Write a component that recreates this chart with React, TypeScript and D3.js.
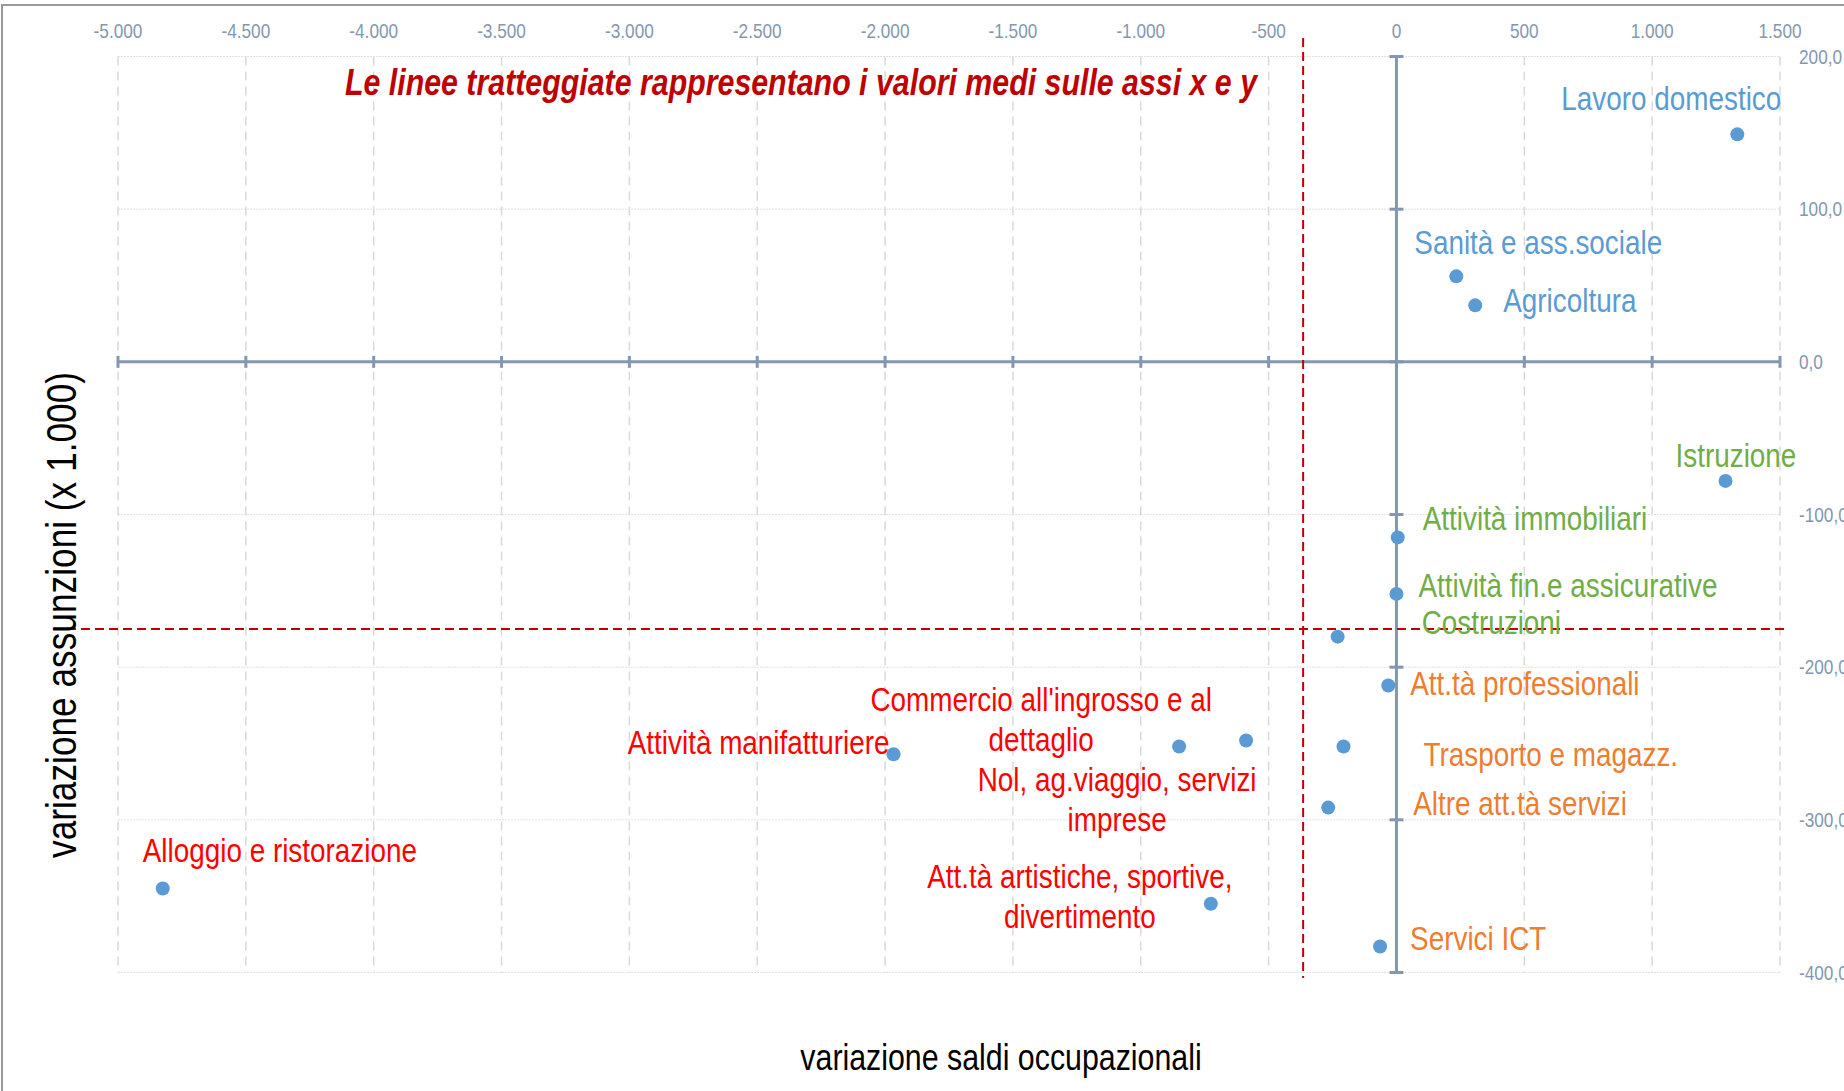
import React, { useEffect, useRef } from 'react';
import * as d3 from 'd3';

// saldi vs assunzioni per settore
const sectors = [
  'Lavoro domestico',
  'Sanità e ass.sociale',
  'Agricoltura',
  'Istruzione',
  'Attività immobiliari',
  'Attività fin.e assicurative',
  'Costruzioni',
  'Att.tà professionali',
  'Trasporto e magazz.',
  'Altre att.tà servizi',
  'Servici ICT',
  'Attività manifatturiere',
  "Commercio all'ingrosso e al dettaglio",
  'Nol, ag.viaggio, servizi imprese',
  'Att.tà artistiche, sportive, divertimento',
  'Alloggio e ristorazione',
];
const saldi = [1333, 234, 308, 1287, 5, 0, -230, -32, -207, -267, -64, -1967, -588, -850, -726, -4825];
const assunzioni = [149, 56, 37, -78, -115, -152, -180, -212, -252, -292, -383, -257, -248, -252, -355, -345];
const gruppi = ['q1', 'q1', 'q1', 'q2', 'q2', 'q2', 'q2', 'q3', 'q3', 'q3', 'q3', 'q4', 'q4', 'q4', 'q4', 'q4'];

const mediaSaldi = -365;
const mediaAssunzioni = -175;

const xTicks = [-5000, -4500, -4000, -3500, -3000, -2500, -2000, -1500, -1000, -500, 0, 500, 1000, 1500];
const yTicks = [200, 100, 0, -100, -200, -300, -400];

const note = 'Le linee tratteggiate rappresentano i valori medi sulle assi x e y';
const xTitle = 'variazione saldi occupazionali';
const yTitle = 'variazione assunzioni (x 1.000)';

// label placement, relative to the dot
const labelLayout = [
  { lines: ['Lavoro domestico'], anchor: 'end', dx: 44, dy: -24 },
  { lines: ['Sanità e ass.sociale'], anchor: 'start', dx: -42, dy: -22 },
  { lines: ['Agricoltura'], anchor: 'start', dx: 28, dy: 7 },
  { lines: ['Istruzione'], anchor: 'start', dx: -50, dy: -14 },
  { lines: ['Attività immobiliari'], anchor: 'start', dx: 25, dy: -7 },
  { lines: ['Attività fin.e assicurative'], anchor: 'start', dx: 22, dy: 3 },
  { lines: ['Costruzioni'], anchor: 'start', dx: 84, dy: -3 },
  { lines: ['Att.tà professionali'], anchor: 'start', dx: 22, dy: 10 },
  { lines: ['Trasporto e magazz.'], anchor: 'start', dx: 80, dy: 19 },
  { lines: ['Altre att.tà servizi'], anchor: 'start', dx: 85, dy: 7 },
  { lines: ['Servici ICT'], anchor: 'start', dx: 30, dy: 3 },
  { lines: ['Attività manifatturiere'], anchor: 'end', dx: -4, dy: 0 },
  { lines: ["Commercio all'ingrosso e al", 'dettaglio'], anchor: 'middle', dx: -205, dy: -29 },
  { lines: ['Nol, ag.viaggio, servizi', 'imprese'], anchor: 'middle', dx: -62, dy: 44 },
  { lines: ['Att.tà artistiche, sportive,', 'divertimento'], anchor: 'middle', dx: -131, dy: -16 },
  { lines: ['Alloggio e ristorazione'], anchor: 'start', dx: -20, dy: -27 },
];

const colori = { q1: '#5b9bd5', q2: '#70ad47', q3: '#ed7d31', q4: '#ff0000' };
const axisColor = '#8497b0';
// no narrow font installed: squeeze Liberation Sans horizontally
const FONT = "'Liberation Sans', Arial, sans-serif";
const SQ = 0.82;

const W = 1844;
const H = 1091;

const it = d3.formatLocale({ decimal: ',', thousands: '.', grouping: [3], currency: ['€', ''], minus: '-' });
const fmtX = it.format(',');
const fmtY = it.format(',.1f');

const at = (px, py) => `translate(${px},${py}) scale(${SQ},1)`;

export default function App() {
  const ref = useRef(null);

  useEffect(() => {
    document.body.style.margin = '0';
    const svg = d3.select(ref.current);
    svg.selectAll('*').remove();

    const x = d3.scaleLinear().domain([-5000, 1500]).range([118, 1780]);
    const y = d3.scaleLinear().domain([-400, 200]).range([972.5, 56.5]);

    svg.append('rect').attr('width', W).attr('height', H).attr('fill', '#fff');

    // frame
    svg.append('path')
      .attr('d', `M2,${H} L2,5 L${W},5`)
      .attr('fill', 'none')
      .attr('stroke', '#9a9a9a')
      .attr('stroke-width', 2);

    // grid
    const grid = svg.append('g');
    grid.selectAll('.gx').data(xTicks).join('line')
      .attr('x1', d => x(d)).attr('x2', d => x(d))
      .attr('y1', y(200)).attr('y2', y(-400))
      .attr('stroke', '#d9d9d9').attr('stroke-width', 1.5)
      .attr('stroke-dasharray', '9,6');
    grid.selectAll('.gy').data(yTicks).join('line')
      .attr('x1', x(-5000)).attr('x2', x(1500))
      .attr('y1', d => y(d)).attr('y2', d => y(d))
      .attr('stroke', '#e0e0e0').attr('stroke-width', 1)
      .attr('stroke-dasharray', '2,1');

    // tick labels
    svg.append('g').selectAll('text').data(xTicks).join('text')
      .attr('transform', d => at(x(d), 38))
      .attr('text-anchor', 'middle')
      .attr('font-family', FONT).attr('font-size', 21)
      .attr('fill', axisColor)
      .text(d => fmtX(d));
    svg.append('g').selectAll('text').data(yTicks).join('text')
      .attr('transform', d => at(1799, y(d) + 7))
      .attr('font-family', FONT).attr('font-size', 21)
      .attr('fill', axisColor)
      .text(d => fmtY(d));

    // axes through zero
    const axes = svg.append('g').attr('stroke', axisColor).attr('stroke-width', 3);
    axes.append('line').attr('x1', x(-5000)).attr('x2', x(1500)).attr('y1', y(0)).attr('y2', y(0));
    axes.selectAll('.tx').data(xTicks).join('line')
      .attr('x1', d => x(d)).attr('x2', d => x(d))
      .attr('y1', y(0) - 6).attr('y2', y(0) + 6);
    axes.append('line').attr('x1', x(0)).attr('x2', x(0)).attr('y1', y(200)).attr('y2', y(-400));
    axes.selectAll('.ty').data(yTicks).join('line')
      .attr('x1', x(0) - 7).attr('x2', x(0) + 7)
      .attr('y1', d => y(d)).attr('y2', d => y(d));

    // mean lines
    const mean = svg.append('g').attr('stroke', '#c00000').attr('stroke-width', 2).attr('stroke-dasharray', '9,5');
    mean.append('line').attr('x1', x(mediaSaldi)).attr('x2', x(mediaSaldi)).attr('y1', 38).attr('y2', 978);
    mean.append('line').attr('x1', 53).attr('x2', 1785).attr('y1', y(mediaAssunzioni)).attr('y2', y(mediaAssunzioni));

    // note
    svg.append('text')
      .attr('transform', at(801, 95))
      .attr('text-anchor', 'middle')
      .attr('font-family', FONT).attr('font-size', 37)
      .attr('font-weight', 'bold').attr('font-style', 'italic')
      .attr('fill', '#c00000')
      .text(note);

    // dots
    const data = sectors.map((s, i) => ({ s, x: saldi[i], y: assunzioni[i], g: gruppi[i], lab: labelLayout[i] }));
    svg.append('g').selectAll('circle').data(data).join('circle')
      .attr('cx', d => x(d.x)).attr('cy', d => y(d.y)).attr('r', 7)
      .attr('fill', '#5b9bd5');

    // labels
    const labels = svg.append('g').selectAll('text').data(data).join('text')
      .attr('transform', d => at(x(d.x) + d.lab.dx, y(d.y) + d.lab.dy))
      .attr('text-anchor', d => d.lab.anchor)
      .attr('font-family', FONT).attr('font-size', 34)
      .attr('fill', d => colori[d.g]);
    labels.selectAll('tspan').data(d => d.lab.lines.map((t, k) => ({ t, k }))).join('tspan')
      .attr('x', 0)
      .attr('dy', d => (d.k === 0 ? 0 : 40))
      .text(d => d.t);

    // axis titles
    svg.append('text')
      .attr('transform', at(1001, 1070))
      .attr('text-anchor', 'middle')
      .attr('font-family', FONT).attr('font-size', 37)
      .attr('fill', '#000')
      .text(xTitle);
    svg.append('text')
      .attr('transform', `translate(76,615) rotate(-90) scale(${SQ},1)`)
      .attr('text-anchor', 'middle')
      .attr('font-family', FONT).attr('font-size', 43)
      .attr('fill', '#000')
      .text(yTitle);
  }, []);

  return <svg ref={ref} width={W} height={H} style={{ display: 'block' }} />;
}
